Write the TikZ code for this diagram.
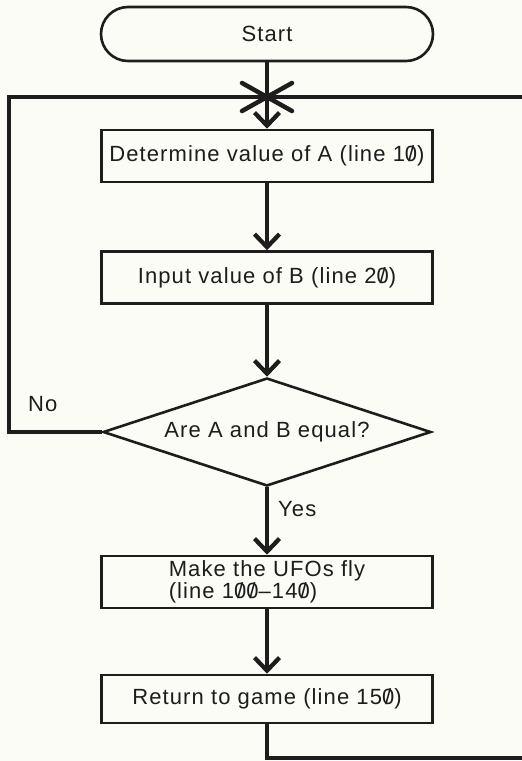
\documentclass[tikz,border=0pt]{standalone}
\usepackage{fontspec}
\setmainfont{Liberation Sans}[LetterSpace=5]
\usetikzlibrary{arrows.meta,shapes.geometric}

\definecolor{inkc}{RGB}{30,28,28}
\definecolor{paper}{RGB}{252,252,247}

% slashed zero, as printed in program listings
\newcommand\zr{\ooalign{0\cr\hidewidth/\hidewidth\cr}}

\begin{document}
\begin{tikzpicture}[x=1pt,y=-1pt,
  txt/.style={font=\fontsize{22}{22}\selectfont, text=inkc},
  box/.style={txt, draw=inkc, line width=2.6pt, rectangle,
    minimum width=331pt, minimum height=52pt, inner sep=0pt},
  term/.style={box, rounded corners=27pt, minimum width=332pt, minimum height=54pt},
  decision/.style={txt, draw=inkc, line width=2.6pt, diamond, aspect=3,
    minimum width=328pt, minimum height=108pt, inner sep=0pt},
  flow/.style={draw=inkc, line width=4pt,
    -{Straight Barb[length=13pt,width=25pt,line width=4.3pt]}},
  loopline/.style={draw=inkc, line width=4.2pt, line join=miter},
  xmark/.style={draw=inkc, line width=4.5pt, line cap=round},
  lbl/.style={txt, inner sep=0pt}
]
\useasboundingbox (0,0) rectangle (522,761);
\fill[paper] (0,0) rectangle (522,761);

% process steps
\node[term] (start) at (267,34) {Start};
\node[box] (det) at (267,156) {Determine value of A (line 1\zr)};
\node[box] (inp) at (267,277.5) {Input value of B (line 2\zr)};
\node[decision] (dec) at (267,432) {Are A and B equal?};
\node[box, align=left] (ufo) at (267,582) {Make the UFOs fly\\(line 1\zr\zr–14\zr)};
\node[box, minimum height=48pt] (ret) at (267,699) {Return to game (line 15\zr)};

% branch labels
\node[lbl, anchor=west] (no) at (28,404) {No};
\node[lbl, anchor=west] (yes) at (278,509) {Yes};

% return path and junction
\coordinate (jn) at (267,97);
\coordinate (tl) at (9,97);
\coordinate (tr) at (522,97);
\coordinate (br) at (522,758);

\draw[loopline] (dec.west) -| (tl) -- (tr);
\draw[loopline] (ret.south) |- (br);

% main flow
\draw[flow] (start) -- (det);
\draw[flow] (det) -- (inp);
\draw[flow] (inp) -- (dec);
\draw[flow] (dec) -- (ufo);
\draw[flow] (ufo) -- (ret);

% junction cross
\draw[xmark] (jn) ++(-25,-14) -- ++(50,28);
\draw[xmark] (jn) ++(25,-14) -- ++(-50,28);
\end{tikzpicture}
\end{document}
